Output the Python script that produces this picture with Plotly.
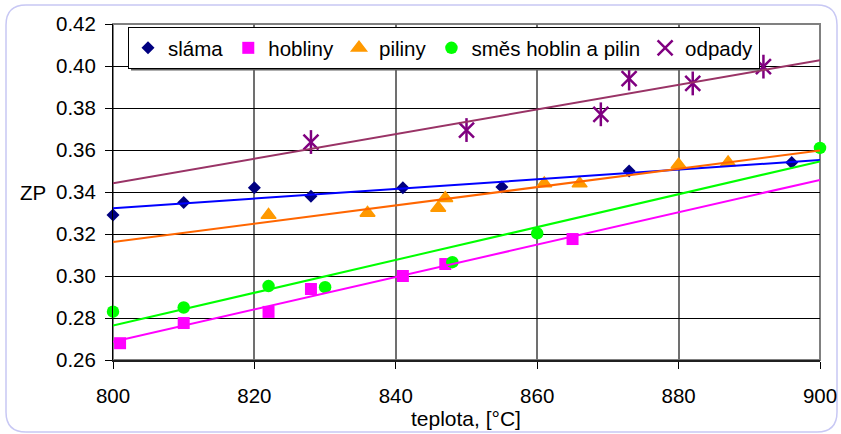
import numpy as np
import plotly.graph_objects as go

# Measured points: temperature [°C] and ZP value for each material
slama_t = [800, 810, 820, 828, 841, 855, 873, 896]
slama_zp = [0.329, 0.335, 0.342, 0.338, 0.342, 0.3424, 0.350, 0.354]

hobliny_t = [801, 810, 822, 828, 841, 847, 865]
hobliny_zp = [0.268, 0.2776, 0.2829, 0.2938, 0.300, 0.3057, 0.3176]

piliny_t = [822, 836, 846, 847, 861, 866, 880, 887]
piliny_zp = [0.329, 0.330, 0.3324, 0.337, 0.344, 0.344, 0.353, 0.354]

smes_t = [800, 810, 822, 830, 848, 860, 900]
smes_zp = [0.283, 0.285, 0.2952, 0.2947, 0.3066, 0.3203, 0.361]

odpady_t = [828, 850, 869, 873, 882, 892]
odpady_zp = [0.3638, 0.3695, 0.377, 0.394, 0.3917, 0.3997]

x_ticks = [800, 820, 840, 860, 880, 900]
y_ticks = [0.26, 0.28, 0.30, 0.32, 0.34, 0.36, 0.38, 0.40, 0.42]

FONT = "Liberation Sans, Arial, sans-serif"
W, H = 841, 434
L, R, T, B = 113, 21, 24, 74
PW, PH = W - L - R, H - T - B

fig = go.Figure()

series = [
    ("sláma", slama_t, slama_zp, dict(symbol="diamond", size=10, color="#000080", line=dict(width=0))),
    ("hobliny", hobliny_t, hobliny_zp, dict(symbol="square", size=12, color="#FF00FF", line=dict(width=0))),
    ("piliny", piliny_t, piliny_zp, dict(symbol="triangle-up", size=13, color="#FF9900",
                                         line=dict(width=1.5, color="#FF9900"))),
    ("směs hoblin a pilin", smes_t, smes_zp, dict(symbol="circle", size=12.5, color="#00FF00", line=dict(width=0))),
]

for name, xs, ys, mk in series:
    fig.add_trace(go.Scatter(x=xs, y=ys, mode="markers", name=name, cliponaxis=False,
                             marker=mk))

# odpady: X with a vertical stroke (six-armed star)
fig.add_trace(go.Scatter(x=odpady_t, y=odpady_zp, mode="markers", name="odpady",
                         legendgroup="odpady", cliponaxis=False,
                         marker=dict(symbol="x-thin-open", size=15, color="#800080",
                                     line=dict(width=2.5, color="#800080"))))
fig.add_trace(go.Scatter(x=odpady_t, y=odpady_zp, mode="markers", showlegend=False,
                         legendgroup="odpady", hoverinfo="skip", cliponaxis=False,
                         marker=dict(symbol="line-ns-open", size=17, color="#800080",
                                     line=dict(width=2.5, color="#800080"))))

# linear trend lines over the full temperature range
trend = [(slama_t, slama_zp, "#0000FF"), (hobliny_t, hobliny_zp, "#FF00FF"),
         (piliny_t, piliny_zp, "#FF6600"), (smes_t, smes_zp, "#00FF00"),
         (odpady_t, odpady_zp, "#993366")]
xr = np.array([x_ticks[0], x_ticks[-1]], dtype=float)
for xs, ys, col in trend:
    k, q = np.polyfit(xs, ys, 1)
    fig.add_trace(go.Scatter(x=xr, y=k * xr + q, mode="lines", showlegend=False,
                             hoverinfo="skip", line=dict(color=col, width=2)))


# pixel -> paper coordinate helpers
def px(xp):
    return (xp - L) / PW


def py(yp):
    return (H - B - yp) / PH


# rounded outer frame
x0, x1, yt, yb = px(6), px(837), py(5), py(432)
rx, ry = 20 / PW, 20 / PH
path = (f"M {x0+rx},{yt} L {x1-rx},{yt} Q {x1},{yt} {x1},{yt-ry} "
        f"L {x1},{yb+ry} Q {x1},{yb} {x1-rx},{yb} L {x0+rx},{yb} "
        f"Q {x0},{yb} {x0},{yb+ry} L {x0},{yt-ry} Q {x0},{yt} {x0+rx},{yt} Z")

shapes = [
    dict(type="path", xref="paper", yref="paper", path=path,
         line=dict(color="#C8C8F4", width=1.5), layer="below"),
    dict(type="rect", xref="paper", yref="paper", x0=0, x1=1, y0=0, y1=1,
         line=dict(color="#808080", width=2), layer="between"),
    # drop shadow behind the legend box
    dict(type="rect", xref="paper", yref="paper", x0=px(131), x1=px(760),
         y0=py(70.5), y1=py(30), fillcolor="#606060", line=dict(width=0), layer="above"),
]

fig.update_layout(
    width=W, height=H,
    margin=dict(l=L, r=R, t=T, b=B, autoexpand=False),
    paper_bgcolor="white", plot_bgcolor="white",
    font=dict(family=FONT, size=20, color="black"),
    shapes=shapes,
    showlegend=True,
    legend=dict(orientation="h", x=px(128), y=py(27), xanchor="left", yanchor="top",
                bgcolor="white", bordercolor="black", borderwidth=1,
                font=dict(family=FONT, size=20.5, color="black"),
                itemwidth=30, tracegroupgap=0),
    annotations=[
        dict(text="ZP", xref="paper", yref="paper", x=px(33), y=0.5,
             xanchor="center", yanchor="middle", showarrow=False,
             font=dict(family=FONT, size=20.5, color="black")),
        dict(text="teplota, [°C]", xref="paper", yref="paper", x=px(466), y=py(418),
             xanchor="center", yanchor="middle", showarrow=False,
             font=dict(family=FONT, size=21, color="black")),
    ],
)

fig.update_xaxes(range=[x_ticks[0], x_ticks[-1]], tickvals=x_ticks, automargin=False,
                 ticks="outside", ticklen=7, tickcolor="black", tickwidth=1,
                 ticklabelstandoff=9,
                 showgrid=True, gridcolor="#707070", gridwidth=1.5,
                 showline=True, linecolor="#202020", linewidth=2,
                 zeroline=False, tickfont=dict(size=20.5))
fig.update_yaxes(range=[y_ticks[0], y_ticks[-1]], tickvals=y_ticks, tickformat=".2f",
                 automargin=False,
                 ticks="outside", ticklen=7, tickcolor="black", tickwidth=1,
                 ticklabelstandoff=5,
                 showgrid=True, gridcolor="black", gridwidth=1,
                 showline=True, linecolor="black", linewidth=1,
                 zeroline=False, tickfont=dict(size=20.5))

fig.write_html("out.html")
